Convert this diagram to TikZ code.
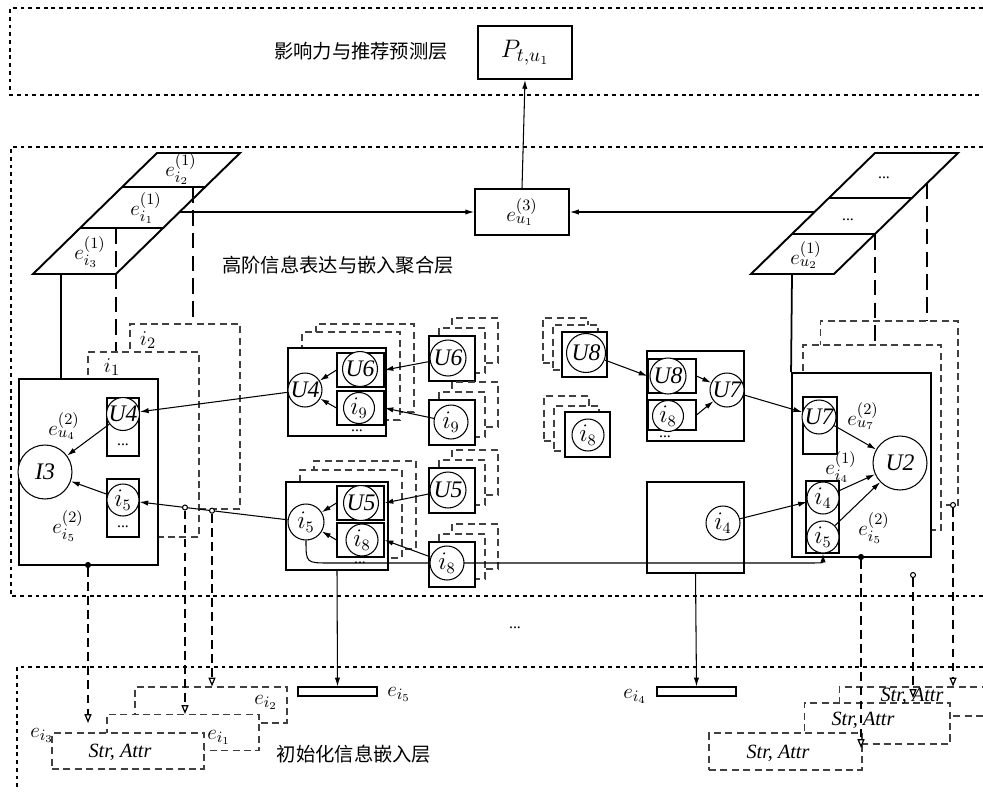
\documentclass[tikz,border=0pt]{standalone}
\usepackage{fontspec}
\setmainfont{Liberation Serif}
\newfontfamily\cjk{Noto Sans CJK SC}
\usetikzlibrary{arrows.meta}

\begin{document}
\begin{tikzpicture}[x=0.02cm, y=-0.02cm,
    band/.style={line width=0.6pt, dash pattern=on 2.2pt off 2.2pt},
    bigbox/.style={draw, line width=1.1pt, fill=white, inner sep=0pt},
    aggbox/.style={draw, line width=0.6pt, fill=white, inner sep=0pt},
    slot/.style={draw, line width=0.6pt, fill=white, inner sep=0pt},
    ghost/.style={draw=black!75, line width=0.6pt, dash pattern=on 4pt off 2.5pt, fill=white, inner sep=0pt},
    vtx/.style={circle, draw, line width=0.6pt, fill=white, inner sep=0pt, font=\fontsize{13.5}{15}\selectfont\itshape},
    lbl/.style={font=\fontsize{13}{15}\selectfont, inner sep=0pt},
    cn/.style={font=\cjk\fontsize{11}{13}\selectfont, inner sep=0pt},
    attr/.style={font=\fontsize{11.5}{13}\selectfont\itshape, inner sep=0pt},
    ellip/.style={font=\fontsize{9}{9}\selectfont, inner sep=0pt},
    arr/.style={-{Latex[length=5pt,width=3pt]}, line width=0.6pt},
    tie/.style={line width=1pt},
    hid/.style={line width=0.7pt, dash pattern=on 9pt off 4pt},
    embarr/.style={-{Triangle[open,length=5pt,width=4pt]}, line width=0.7pt, dash pattern=on 5pt off 3pt},
    knot/.style={circle, draw, fill=white, inner sep=0pt, minimum size=0.1cm, line width=0.6pt},
    embbar/.style={draw, line width=0.6pt, minimum width=1.58cm, minimum height=0.18cm, inner sep=0pt},
]
\useasboundingbox (0,0) rectangle (983,791);
\fill[white] (0,0) rectangle (983,791);

% ── Layer frames ──────────────────────────────────────
\draw[band] (983,8) -- (10,8) -- (10,95) -- (983,95);
\draw[band] (983,147) -- (11,147) -- (11,596) -- (983,596);
\draw[band] (983,667) -- (17,667) -- (17,791);

% ── Prediction layer ──────────────────────────────────
\node[cn] (toptxt) at (361,51) {影响力与推荐预测层};
\node[bigbox, minimum width=1.88cm, minimum height=1.06cm,
      font=\fontsize{15}{17}\selectfont] (pbox) at (525,52.5) {$P_{t,u_1}$};

% ── Aggregation layer: output embedding ───────────────
\node[bigbox, lbl, minimum width=1.88cm, minimum height=0.92cm] (ebox)
    at (522,212) {$e_{u_1}^{(3)}$};
\draw[arr] (ebox.north) -- (pbox.south);
\node[cn] (midtxt) at (338,265) {高阶信息表达与嵌入聚合层};

% ── Embedding tables (parallelograms) ─────────────────
\draw[line width=1.1pt] (33,274) -- (116,274) -- (240,153) -- (157,153) -- cycle;
\draw[line width=1.1pt] (122,187) -- (205,187);
\draw[line width=1.1pt] (80,228) -- (163,228);
\node[lbl] (li2) at (181,169) {$e_{i_2}^{(1)}$};
\node[lbl] (li1) at (146,208) {$e_{i_1}^{(1)}$};
\node[lbl] (li3) at (90,252) {$e_{i_3}^{(1)}$};

\draw[line width=1.1pt] (751,274) -- (834,274) -- (958,153) -- (875,153) -- cycle;
\draw[line width=1.1pt] (829,198) -- (912,198);
\draw[line width=1.1pt] (792,234) -- (875,234);
\node[ellip] (ru3) at (884,178) {...};
\node[ellip] (ru1) at (848,220) {...};
\node[lbl] (ru2) at (806,255) {$e_{u_2}^{(1)}$};

\coordinate (lpar1) at (179.5,212);
\coordinate (lpar2) at (61,274);
\coordinate (lpar3) at (116,228);
\coordinate (lpar4) at (193,187);
\coordinate (rpar1) at (814.5,212);
\coordinate (rpar2) at (792,274);
\coordinate (rpar3) at (875,234);
\coordinate (rpar4) at (927,183);
\draw[arr] (lpar1) -- (ebox.west);
\draw[arr] (rpar1) -- (ebox.east);

% ── Left: I3 with stacked i1, i2 ──────────────────────
\node[ghost, minimum width=2.20cm, minimum height=3.70cm] (gi2) at (185,416.5) {};
\node[lbl] (ti2) at (148,340) {$i_2$};
\node[ghost, minimum width=2.22cm, minimum height=3.70cm] (gi1) at (143.5,444.5) {};
\node[lbl] (ti1) at (112,367) {$i_1$};
\node[bigbox, minimum width=2.78cm, minimum height=3.72cm] (I3box) at (88.5,472) {};
\node[slot, minimum width=0.64cm, minimum height=1.16cm] (U4s) at (123,427) {};
\node[slot, minimum width=0.64cm, minimum height=1.16cm] (i5s) at (123,508) {};
\node[ellip] (U4dots) at (123,445) {...};
\node[ellip] (i5dots) at (123,527) {...};
\node[vtx, minimum size=1.08cm] (I3c) at (45,472) {I3};
\node[vtx, minimum size=0.66cm] (U4c) at (123,414) {U4};
\node[vtx, minimum size=0.64cm] (i5c) at (123,500) {$i_5$};
\draw[arr] (U4c) -- (I3c);
\draw[arr] (i5c) -- (I3c);
\node[lbl] (eU4) at (64,426) {$e_{u_4}^{(2)}$};
\node[lbl] (eI5) at (68,526) {$e_{i_5}^{(2)}$};

% ── Middle: aggregation of U4 and i5 ──────────────────
\node[ghost, minimum width=1.96cm, minimum height=1.76cm] at (365,368) {};
\node[ghost, minimum width=1.96cm, minimum height=1.76cm] at (351,376) {};
\node[aggbox, minimum width=1.96cm, minimum height=1.76cm] (U4box) at (337,392) {};
\node[slot, minimum width=0.94cm, minimum height=0.68cm] (U6s) at (360.5,370) {};
\node[slot, minimum width=0.94cm, minimum height=0.68cm] (i9s) at (360.5,408) {};
\node[ellip] (U4mdots) at (357,431) {...};
\node[vtx, minimum size=0.70cm] (U6c) at (360,369) {U6};
\node[vtx, minimum size=0.62cm] (i9c) at (359,408) {$i_9$};
\node[vtx, minimum size=0.68cm] (U4m) at (305,390) {U4};

\node[ghost, minimum width=2.04cm, minimum height=1.76cm] at (365,505) {};
\node[ghost, minimum width=2.04cm, minimum height=1.76cm] at (351,514) {};
\node[aggbox, minimum width=2.04cm, minimum height=1.76cm] (i5box) at (337,526) {};
\node[slot, minimum width=0.94cm, minimum height=0.68cm] (U5s) at (360.5,503) {};
\node[slot, minimum width=0.94cm, minimum height=0.68cm] (i8s) at (360.5,540) {};
\node[ellip] (i5mdots) at (360,563) {...};
\node[vtx, minimum size=0.70cm] (U5c) at (361,503) {U5};
\node[vtx, minimum size=0.64cm] (i8c) at (362,540) {$i_8$};
\node[vtx, minimum size=0.72cm] (i5m) at (306,522) {$i_5$};

% ── Neighbour sources (stacked) ───────────────────────
\node[ghost, minimum width=0.92cm, minimum height=0.90cm] at (475,340.5) {};
\node[ghost, minimum width=0.92cm, minimum height=0.90cm] at (462,350.5) {};
\node[aggbox, minimum width=0.92cm, minimum height=0.90cm] (U6sq) at (452,358.5) {};
\node[ghost, minimum width=0.92cm, minimum height=0.90cm] at (475,404.5) {};
\node[ghost, minimum width=0.92cm, minimum height=0.90cm] at (462,414.5) {};
\node[aggbox, minimum width=0.92cm, minimum height=0.90cm] (i9sq) at (452,422.5) {};
\node[ghost, minimum width=0.92cm, minimum height=0.90cm] at (475,472.5) {};
\node[ghost, minimum width=0.92cm, minimum height=0.90cm] at (462,482.5) {};
\node[aggbox, minimum width=0.92cm, minimum height=0.90cm] (U5sq) at (452,490.5) {};
\node[ghost, minimum width=0.92cm, minimum height=0.90cm] at (475,546.5) {};
\node[ghost, minimum width=0.92cm, minimum height=0.90cm] at (462,556.5) {};
\node[aggbox, minimum width=0.92cm, minimum height=0.90cm] (i8sq) at (452,564.5) {};

\node[ghost, minimum width=0.90cm, minimum height=0.90cm] at (565.5,340.5) {};
\node[ghost, minimum width=0.90cm, minimum height=0.90cm] at (575.5,347.5) {};
\node[aggbox, minimum width=0.90cm, minimum height=0.90cm] (U8sq) at (584.5,354.5) {};
\node[ghost, minimum width=0.90cm, minimum height=0.90cm] at (566.5,418.5) {};
\node[ghost, minimum width=0.90cm, minimum height=0.90cm] at (576.5,428.5) {};
\node[aggbox, minimum width=0.90cm, minimum height=0.90cm] (i8sqB) at (587.5,434.5) {};

% ── Middle right: aggregation of U7, and i4 ───────────
\node[aggbox, minimum width=1.94cm, minimum height=1.80cm] (U7box) at (695.5,396) {};
\node[slot, minimum width=0.96cm, minimum height=0.68cm] (U8s) at (672,376) {};
\node[slot, minimum width=0.96cm, minimum height=0.60cm] (i8sB) at (672,415) {};
\node[ellip] (U7dots) at (665,437) {...};
\node[vtx, minimum size=0.72cm] (U8c) at (668,376) {U8};
\node[vtx, minimum size=0.62cm] (i8cB) at (668,416) {$i_8$};
\node[vtx, minimum size=0.68cm] (U7m) at (727,390) {U7};

\node[aggbox, minimum width=1.94cm, minimum height=1.82cm] (i4box) at (695.5,527.5) {};
\node[vtx, minimum size=0.68cm] (i4m) at (723,523) {$i_4$};

% ── Right: U2 with stacked copies ─────────────────────
\node[ghost, minimum width=2.76cm, minimum height=3.68cm] (gU2out) at (889,413) {};
\node[ghost, minimum width=2.76cm, minimum height=3.70cm] (gU2in) at (872,437.5) {};
\node[bigbox, minimum width=2.78cm, minimum height=3.68cm] (U2box) at (861.5,465) {};
\node[slot, minimum width=0.68cm, minimum height=1.14cm] (U7sR) at (820,425.5) {};
\node[slot, minimum width=0.66cm, minimum height=1.44cm] (i45s) at (822.5,517) {};
\node[vtx, minimum size=0.68cm] (U7R) at (819,417) {U7};
\node[vtx, minimum size=0.64cm] (i4R) at (823,498) {$i_4$};
\node[vtx, minimum size=0.64cm] (i5R) at (823,537) {$i_5$};
\node[vtx, minimum size=1.08cm] (U2c) at (900,463) {U2};
\node[lbl] (eU7) at (863,416) {$e_{u_7}^{(2)}$};
\node[lbl] (eI4) at (841,467) {$e_{i_4}^{(1)}$};
\node[lbl] (eI5r) at (874,528) {$e_{i_5}^{(2)}$};

% ── Long link i5 -> i5 ────────────────────────────────
\draw[arr] (i5m.south) .. controls (306,563) .. (330,563) -- (800,563)
    .. controls (823,563) .. (i5R.south);

% ── Source vertices ───────────────────────────────────
\node[vtx, minimum size=0.72cm] (U6src) at (448,358) {U6};
\node[vtx, minimum size=0.68cm] (i9src) at (451,422) {$i_9$};
\node[vtx, minimum size=0.72cm] (U5src) at (448,490) {U5};
\node[vtx, minimum size=0.68cm] (i8src) at (447,563) {$i_8$};
\node[vtx, minimum size=0.78cm] (U8src) at (586,353) {U8};
\node[vtx, minimum size=0.64cm] (i8srcB) at (588,435) {$i_8$};

% ── Message passing ───────────────────────────────────
\draw[arr] (U6src) -- (U6s.east);
\draw[arr] (i9src) -- (i9s.east);
\draw[arr] (U5src) -- (U5s.east);
\draw[arr] (i8src) -- (i8s.east);
\draw[arr] (U6s.west) -- (U4m);
\draw[arr] (i9s.west) -- (U4m);
\draw[arr] (U5s.west) -- (i5m);
\draw[arr] (i8s.west) -- (i5m);
\draw[arr] (U4m) -- (U4c);
\draw[arr] (i5m) -- (i5c);
\draw[arr] (U8src) -- (U8s.west);
\draw[arr] (U8s.east) -- (U7m);
\draw[arr] (i8sB.east) -- (U7m);
\draw[arr] (U7m) -- (U7R);
\draw[arr] (i4m) -- (i4R);
\draw[arr] (U7R) -- (U2c);
\draw[arr] (i4R) -- (U2c);
\draw[arr] (i5R) -- (U2c);

% ── Table links ───────────────────────────────────────
\draw[tie] (lpar2) -- (lpar2 |- I3box.north);
\draw[hid] (lpar3) -- (lpar3 |- gi1.north);
\draw[hid] (lpar4) -- (lpar4 |- gi2.north);
\draw[tie] (rpar2) -- (U2box.north west);
\draw[hid] (rpar3) -- (rpar3 |- gU2in.north);
\draw[hid] (rpar4) -- (rpar4 |- gU2out.north);

\node[ellip] (gap) at (515,628) {...};

% ── Initial embedding layer ───────────────────────────
\node[ghost, minimum width=3.04cm, minimum height=0.72cm] (si2) at (211,705) {};
\node[ghost, minimum width=3.04cm, minimum height=0.72cm] (si1) at (183,732.5) {};
\node[ghost, minimum width=3.04cm, minimum height=0.72cm] (si3) at (128,751) {};
\node[attr] (tsi3) at (120,752) {Str, Attr};
\node[lbl] (esi3) at (42,735) {$e_{i_3}$};
\node[lbl] (esi1) at (219,737) {$e_{i_1}$};
\node[lbl] (esi2) at (266,702) {$e_{i_2}$};
\node[cn] (btmtxt) at (354,754) {初始化信息嵌入层};

\node[ghost, minimum width=2.92cm, minimum height=0.58cm] (sr3) at (912,701.5) {};
\node[ghost, minimum width=2.92cm, minimum height=0.82cm] (sr2) at (877,723.5) {};
\node[ghost, minimum width=3.06cm, minimum height=0.74cm] (sr1) at (785.5,751.5) {};
\node[attr] (tsr3) at (912,696) {Str, Attr};
\node[attr] (tsr2) at (863,720) {Str, Attr};
\node[attr] (tsr1) at (778,753) {Str, Attr};

\node[embbar] (ei5) at (337.5,691.5) {};
\node[lbl] (tei5) at (399,694) {$e_{i_5}$};
\node[embbar] (ei4) at (696.5,691.5) {};
\node[lbl] (tei4) at (635,696) {$e_{i_4}$};
\draw[arr] (i5box.south) -- (ei5.north);
\draw[arr] (i4box.south) -- (ei4.north);

% ── Links down to initial embeddings ──────────────────
\node[knot, fill=black] (dI3) at (88,565) {};
\node[knot] (d1) at (185,507.5) {};
\node[knot] (d2) at (212,510.7) {};
\node[knot, fill=black] (dU2) at (861,557) {};
\node[knot] (d3) at (913,575) {};
\node[knot] (d4) at (953,505) {};
\coordinate (tI3) at (88,723);
\coordinate (tU2) at (861,748);
\coordinate (t3) at (913,698);
\draw[embarr] (dI3) -- (tI3);
\draw[embarr] (d1) -- (d1 |- si1.north);
\draw[embarr] (d2) -- (d2 |- si2.north);
\draw[embarr] (dU2) -- (tU2);
\draw[embarr] (d3) -- (t3);
\draw[embarr] (d4) -- (d4 |- sr3.north);

\end{tikzpicture}
\end{document}
